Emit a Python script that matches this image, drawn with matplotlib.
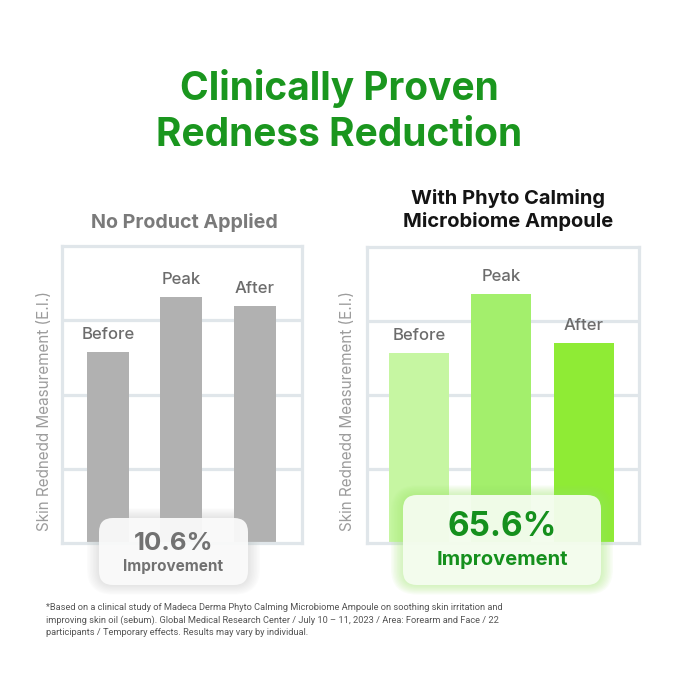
import matplotlib
matplotlib.use("Agg")
import matplotlib.pyplot as plt
from matplotlib.patches import FancyBboxPatch

plt.rcParams['font.family'] = ['Inter', 'DejaVu Sans']

# data
stages = ['Before', 'Peak', 'After']
no_product = [64.3, 82.8, 79.8]
with_ampoule = [64.3, 84.2, 67.7]
improvement = ['10.6%', '65.6%']
panel_titles = ['No Product Applied', 'With Phyto Calming\nMicrobiome Ampoule']
ylabel = 'Skin Rednedd Measurement (E.I.)'
footnote = ('*Based on a clinical study of Madeca Derma Phyto Calming Microbiome Ampoule on soothing skin irritation and\n'
            'improving skin oil (sebum). Global Medical Research Center / July 10 \u2013 11, 2023 / Area: Forearm and Face / 22\n'
            'participants / Temporary effects. Results may vary by individual.')

W = 679
fig = plt.figure(figsize=(6.79, 6.79), dpi=100)
fig.patch.set_facecolor('white')

grid_c = '#e0e6ea'
label_c = '#6c6c6c'


def px_axes(x0, x1, y0, y1):
    # pixel box (from top-left) -> figure axes
    return fig.add_axes([x0 / W, 1 - y1 / W, (x1 - x0) / W, (y1 - y0) / W])


def panel(ax, vals, colors, width, xlim):
    ax.set_xlim(*xlim)
    ax.set_ylim(0, 100)
    for s in ax.spines.values():
        s.set_color(grid_c)
        s.set_linewidth(2.3)
    ax.set_xticks([])
    ax.set_yticks([25, 50, 75])
    ax.tick_params(length=0, labelleft=False)
    ax.yaxis.grid(True, color=grid_c, linewidth=2.3)
    ax.set_axisbelow(True)
    bars = ax.bar(range(len(vals)), vals, width=width, color=colors, zorder=2)
    for b, name in zip(bars, stages):
        ax.annotate(name, (b.get_x() + b.get_width() / 2, b.get_height()),
                    xytext=(0, 12.5), textcoords='offset points',
                    ha='center', va='center', fontsize=12, fontweight='medium',
                    color=label_c)


ax1 = px_axes(62, 302, 246, 543)
panel(ax1, no_product, ['#b1b1b1'] * 3, 0.573, (-0.628, 2.648))
ax2 = px_axes(367, 639, 247, 543)
panel(ax2, with_ampoule, ['#c6f6a2', '#a3ef6c', '#8feb35'], 0.727, (-0.63, 2.667))

# overlay in pixel coordinates
ov = fig.add_axes([0, 0, 1, 1], zorder=5)
ov.set_xlim(0, W)
ov.set_ylim(W, 0)
ov.axis('off')
ov.patch.set_alpha(0)

ov.text(339, 89, 'Clinically Proven', ha='center', va='center', fontsize=28,
        fontweight='bold', color='#1a961e')
ov.text(339, 135, 'Redness Reduction', ha='center', va='center', fontsize=28,
        fontweight='bold', color='#1a961e')

ov.text(184, 222, panel_titles[0], ha='center', va='center', fontsize=14.2,
        fontweight='bold', color='#7a7a7a')
ov.text(508, 210, panel_titles[1], ha='center', va='center', fontsize=14.5,
        fontweight='bold', color='#141414', linespacing=1.25)

for x in (45, 348):
    ov.text(x, 411, ylabel, rotation=90, ha='center', va='center',
            fontsize=11, color='#9c9c9c')


def badge(x0, x1, y0, y1, fill, glow, glow_a):
    for i in range(8, 0, -1):
        ov.add_patch(FancyBboxPatch((x0 - i * 1.5, y0 - i * 1.2), (x1 - x0) + i * 3, (y1 - y0) + i * 2.4,
                                    boxstyle='round,pad=0,rounding_size=%g' % (14 + i * 1.5),
                                    facecolor=glow, edgecolor='none', alpha=glow_a))
    ov.add_patch(FancyBboxPatch((x0, y0), x1 - x0, y1 - y0,
                                boxstyle='round,pad=0,rounding_size=14',
                                facecolor=fill, edgecolor='none', alpha=0.93))


badge(99, 248, 518, 585, '#fbfbfb', '#b8b8b8', 0.045)
ov.text(173.5, 543, improvement[0], ha='center', va='center', fontsize=18.5,
        fontweight='bold', color='#727272')
ov.text(173.5, 567, 'Improvement', ha='center', va='center', fontsize=11,
        fontweight='bold', color='#727272')

badge(403, 601, 495, 585, '#f6fdf1', '#9fe86a', 0.06)
ov.text(502, 527, improvement[1], ha='center', va='center', fontsize=24,
        fontweight='bold', color='#15901d')
ov.text(502, 560, 'Improvement', ha='center', va='center', fontsize=14.5,
        fontweight='bold', color='#15901d')

ov.text(46, 620, footnote, ha='left', va='center', fontsize=6.65,
        color='#555555', linespacing=1.45, family=['Roboto', 'DejaVu Sans'])

fig.savefig('out.png', dpi=100, facecolor='white')
